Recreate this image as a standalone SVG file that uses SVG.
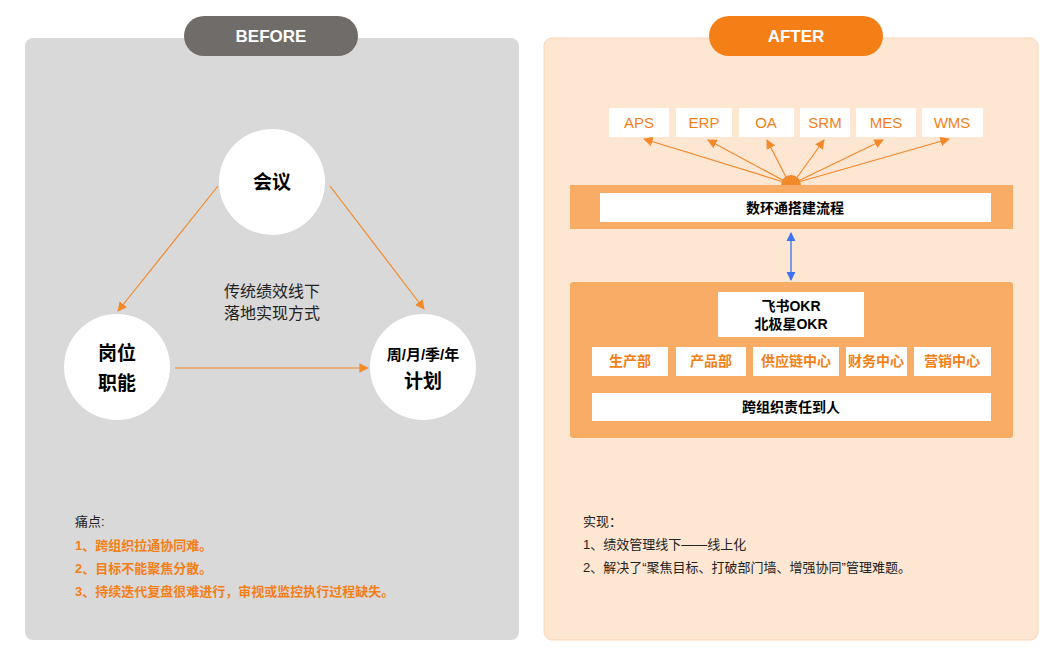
<svg xmlns="http://www.w3.org/2000/svg" width="1062" height="663" viewBox="0 0 1062 663">
<style>
text{font-family:"Liberation Sans","Noto Sans CJK SC",sans-serif}
.c{fill:#fff}
.b{font-weight:bold}
.o{fill:#f57f17}
.wb{fill:#fff}
.oa{stroke:#f4892a;stroke-width:1.2;fill:none;marker-end:url(#ma)}
</style>
<defs>
<marker id="ma" viewBox="0 0 10 10" refX="9" refY="5" markerWidth="8" markerHeight="8" orient="auto"><path d="M0,0L10,5L0,10z" fill="#f4892a"/></marker>
<marker id="mb" viewBox="0 0 10 10" refX="9" refY="5" markerWidth="7" markerHeight="7" orient="auto-start-reverse"><path d="M0,0L10,5L0,10z" fill="#3b73f0"/></marker>
</defs>
<rect width="1062" height="663" fill="#fff"/>
<g id="before">
<rect x="25" y="38" width="494" height="602" rx="8" fill="#d9d9d9"/>
<rect x="184" y="16" width="174" height="40" rx="20" fill="#706c6a"/>
<text x="271" y="42" text-anchor="middle" font-size="17" class="b" fill="#fff">BEFORE</text>
</g>
<g id="after">
<rect x="544" y="38" width="494" height="602" rx="8" fill="#fde6d2" stroke="#fbd7b6"/>
<rect x="709" y="16" width="174" height="40" rx="20" fill="#f57f17"/>
<text x="796" y="42" text-anchor="middle" font-size="17" class="b" fill="#fff">AFTER</text>
</g>
<g id="connectors">
<line class="oa" x1="218" y1="186" x2="118" y2="311"/>
<line class="oa" x1="330" y1="186" x2="424" y2="309"/>
<line class="oa" x1="175" y1="368" x2="368" y2="368"/>
<line class="oa" x1="787" y1="183" x2="644" y2="139"/>
<line class="oa" x1="788" y1="183" x2="708" y2="140"/>
<line class="oa" x1="789" y1="183" x2="767" y2="140"/>
<line class="oa" x1="793" y1="183" x2="824" y2="140"/>
<line class="oa" x1="794" y1="183" x2="883" y2="140"/>
<line class="oa" x1="795" y1="183" x2="949" y2="139"/>
<line x1="791" y1="233" x2="791" y2="280" stroke="#3b73f0" stroke-width="1.3" marker-start="url(#mb)" marker-end="url(#mb)"/>
</g>
<g id="n-huiyi"><circle cx="272" cy="182" r="53" class="c"/><text x="272" y="189" text-anchor="middle" font-size="19" class="b">会议</text></g>
<g id="n-gangwei"><circle cx="117" cy="367" r="53" class="c"/><text x="117" y="360" text-anchor="middle" font-size="19" class="b">岗位</text><text x="117" y="390" text-anchor="middle" font-size="19" class="b">职能</text></g>
<g id="n-jihua"><circle cx="423" cy="367" r="53" class="c"/><text x="423" y="360" text-anchor="middle" font-size="15" class="b">周/月/季/年</text><text x="423" y="388" text-anchor="middle" font-size="19" class="b">计划</text></g>
<g id="n-center"><text x="272" y="297" text-anchor="middle" font-size="16" fill="#222">传统绩效线下</text><text x="272" y="319" text-anchor="middle" font-size="16" fill="#222">落地实现方式</text></g>
<g id="n-pain" font-size="13">
<text x="75" y="526" fill="#222">痛点:</text>
<text x="75" y="550" class="o b">1、跨组织拉通协同难。</text>
<text x="75" y="573" class="o b">2、目标不能聚焦分散。</text>
<text x="75" y="596" class="o b">3、持续迭代复盘很难进行，审视或监控执行过程缺失。</text>
</g>
<g id="n-systems" font-size="15">
<rect x="609" y="108" width="60" height="29" class="wb"/><text x="639" y="128" text-anchor="middle" class="o">APS</text>
<rect x="676" y="108" width="56" height="29" class="wb"/><text x="704" y="128" text-anchor="middle" class="o">ERP</text>
<rect x="739" y="108" width="55" height="29" class="wb"/><text x="766" y="128" text-anchor="middle" class="o">OA</text>
<rect x="800" y="108" width="50" height="29" class="wb"/><text x="825" y="128" text-anchor="middle" class="o">SRM</text>
<rect x="856" y="108" width="60" height="29" class="wb"/><text x="886" y="128" text-anchor="middle" class="o">MES</text>
<rect x="922" y="108" width="61" height="29" class="wb"/><text x="952" y="128" text-anchor="middle" class="o">WMS</text>
</g>
<g id="n-band1">
<path d="M781,185 a10,10 0 0 1 20,0z" fill="#f4892a"/>
<rect x="570" y="185" width="443" height="44" fill="#f9ac66"/>
<rect x="600" y="193" width="391" height="29" class="wb"/>
<text x="795" y="213" text-anchor="middle" font-size="14" class="b">数环通搭建流程</text>
</g>
<g id="n-band2">
<rect x="570" y="282" width="443" height="156" rx="3" fill="#f9ac66"/>
<rect x="718" y="292" width="146" height="45" class="wb"/>
<text x="791" y="311" text-anchor="middle" font-size="14" class="b">飞书OKR</text>
<text x="791" y="329" text-anchor="middle" font-size="14" class="b">北极星OKR</text>
<g font-size="14" class="b">
<rect x="592" y="347" width="76" height="29" class="wb"/><text x="630" y="366" text-anchor="middle" class="o">生产部</text>
<rect x="676" y="347" width="70" height="29" class="wb"/><text x="711" y="366" text-anchor="middle" class="o">产品部</text>
<rect x="753" y="347" width="86" height="29" class="wb"/><text x="796" y="366" text-anchor="middle" class="o">供应链中心</text>
<rect x="846" y="347" width="61" height="29" class="wb"/><text x="876" y="366" text-anchor="middle" class="o">财务中心</text>
<rect x="914" y="347" width="77" height="29" class="wb"/><text x="952" y="366" text-anchor="middle" class="o">营销中心</text>
</g>
<rect x="592" y="393" width="399" height="28" class="wb"/>
<text x="791" y="412" text-anchor="middle" font-size="14" class="b">跨组织责任到人</text>
</g>
<g id="n-result" font-size="13" fill="#222">
<text x="583" y="526">实现：</text>
<text x="583" y="549">1、绩效管理线下——线上化</text>
<text x="583" y="572">2、解决了“聚焦目标、打破部门墙、增强协同”管理难题。</text>
</g>
</svg>
